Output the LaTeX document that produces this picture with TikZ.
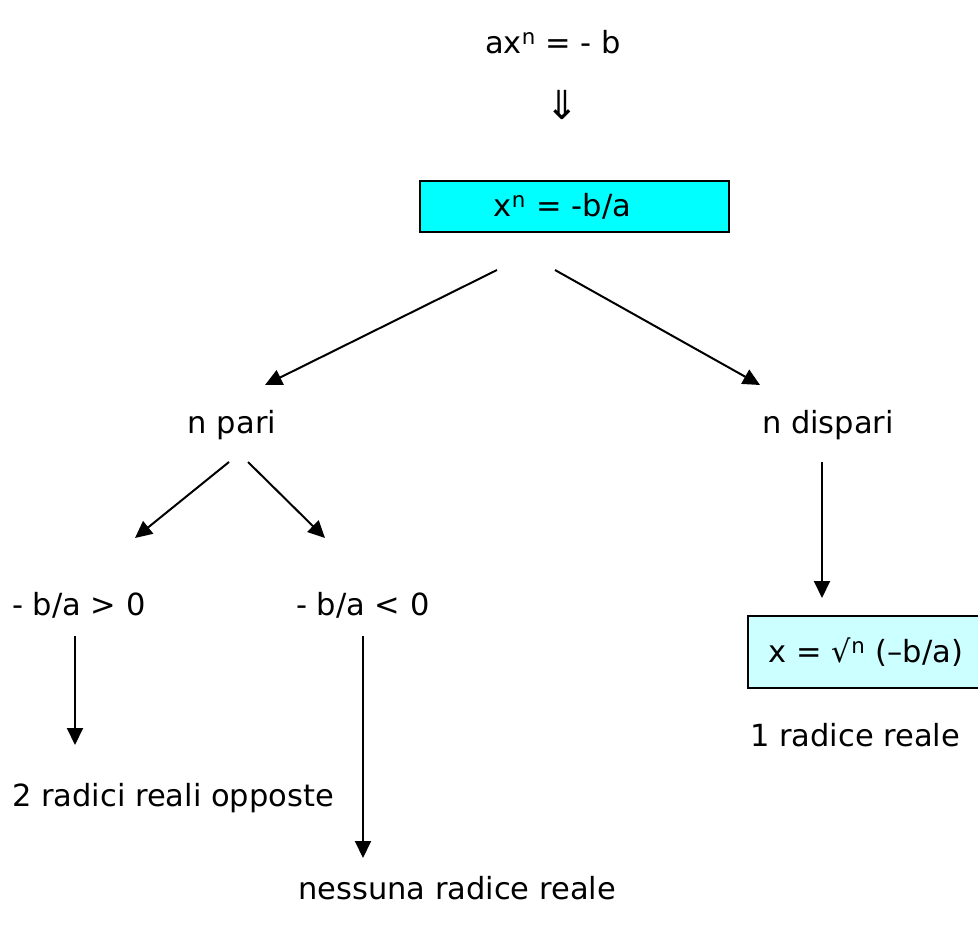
\documentclass[tikz,border=0pt]{standalone}
\usepackage{fontspec}
\setmainfont{DejaVu Sans}
\usetikzlibrary{arrows.meta}
\definecolor{boxcyan}{RGB}{0,255,255}
\definecolor{boxpale}{RGB}{204,255,255}

\begin{document}
\begin{tikzpicture}[x=1pt,y=-1pt,
    txt/.style={font=\fontsize{30.5}{34}\selectfont, inner sep=0pt},
    lbox/.style={txt, draw=black, line width=2pt},
    arr/.style={-{Triangle[length=17pt,width=16pt]}, line width=2pt}]
    \useasboundingbox (0,0) rectangle (978,930);

    % equation and first step
    \node[txt] (eq) at (553,42) {ax\textsuperscript{n} = - b};
    \node[txt, font=\fontsize{40}{44}\selectfont] (impl) at (562,105) {⇓};
    \node[lbox, fill=boxcyan, minimum width=309pt, minimum height=51pt, text width=309pt, align=center] (xn) at (574.5,206.5) {x\textsuperscript{n} = -b/a\rule{24pt}{0pt}};

    % the two cases
    \node[txt] (pari) at (232,425) {n pari};
    \node[txt] (dispari) at (828,425) {n dispari};
    \node[txt, anchor=west] (pos) at (12,605) {- b/a > 0};
    \node[txt, anchor=west] (neg) at (296,605) {- b/a < 0};
    \node[txt, anchor=west] (due) at (12,798) {2 radici reali opposte};
    \node[txt, anchor=west] (nessuna) at (298,888) {nessuna radice reale};
    \node[lbox, fill=boxpale, anchor=west, minimum height=72pt, text width=210pt, inner xsep=20pt, align=left] (sol) at (747,652) {x = √\textsuperscript{n} (–b/a)};
    \node[txt, anchor=west] (una) at (750,735) {1 radice reale};

    % arrow ends
    \coordinate (xnL) at (497,270);
    \coordinate (xnR) at (555,270);
    \coordinate (pariIn) at (265,385);
    \coordinate (dispIn) at (760,385);
    \coordinate (pariL) at (229,462);
    \coordinate (pariR) at (248,462);
    \coordinate (posIn) at (135,538);
    \coordinate (negIn) at (325,538);
    \coordinate (posOut) at (75,636);
    \coordinate (dueIn) at (75,745);
    \coordinate (negOut) at (363,636);
    \coordinate (nessIn) at (363,858);
    \coordinate (dispOut) at (822,462);
    \coordinate (solIn) at (822,598);

    \draw[arr] (xnL) -- (pariIn);
    \draw[arr] (xnR) -- (dispIn);
    \draw[arr] (pariL) -- (posIn);
    \draw[arr] (pariR) -- (negIn);
    \draw[arr] (posOut) -- (dueIn);
    \draw[arr] (negOut) -- (nessIn);
    \draw[arr] (dispOut) -- (solIn);
\end{tikzpicture}
\end{document}
